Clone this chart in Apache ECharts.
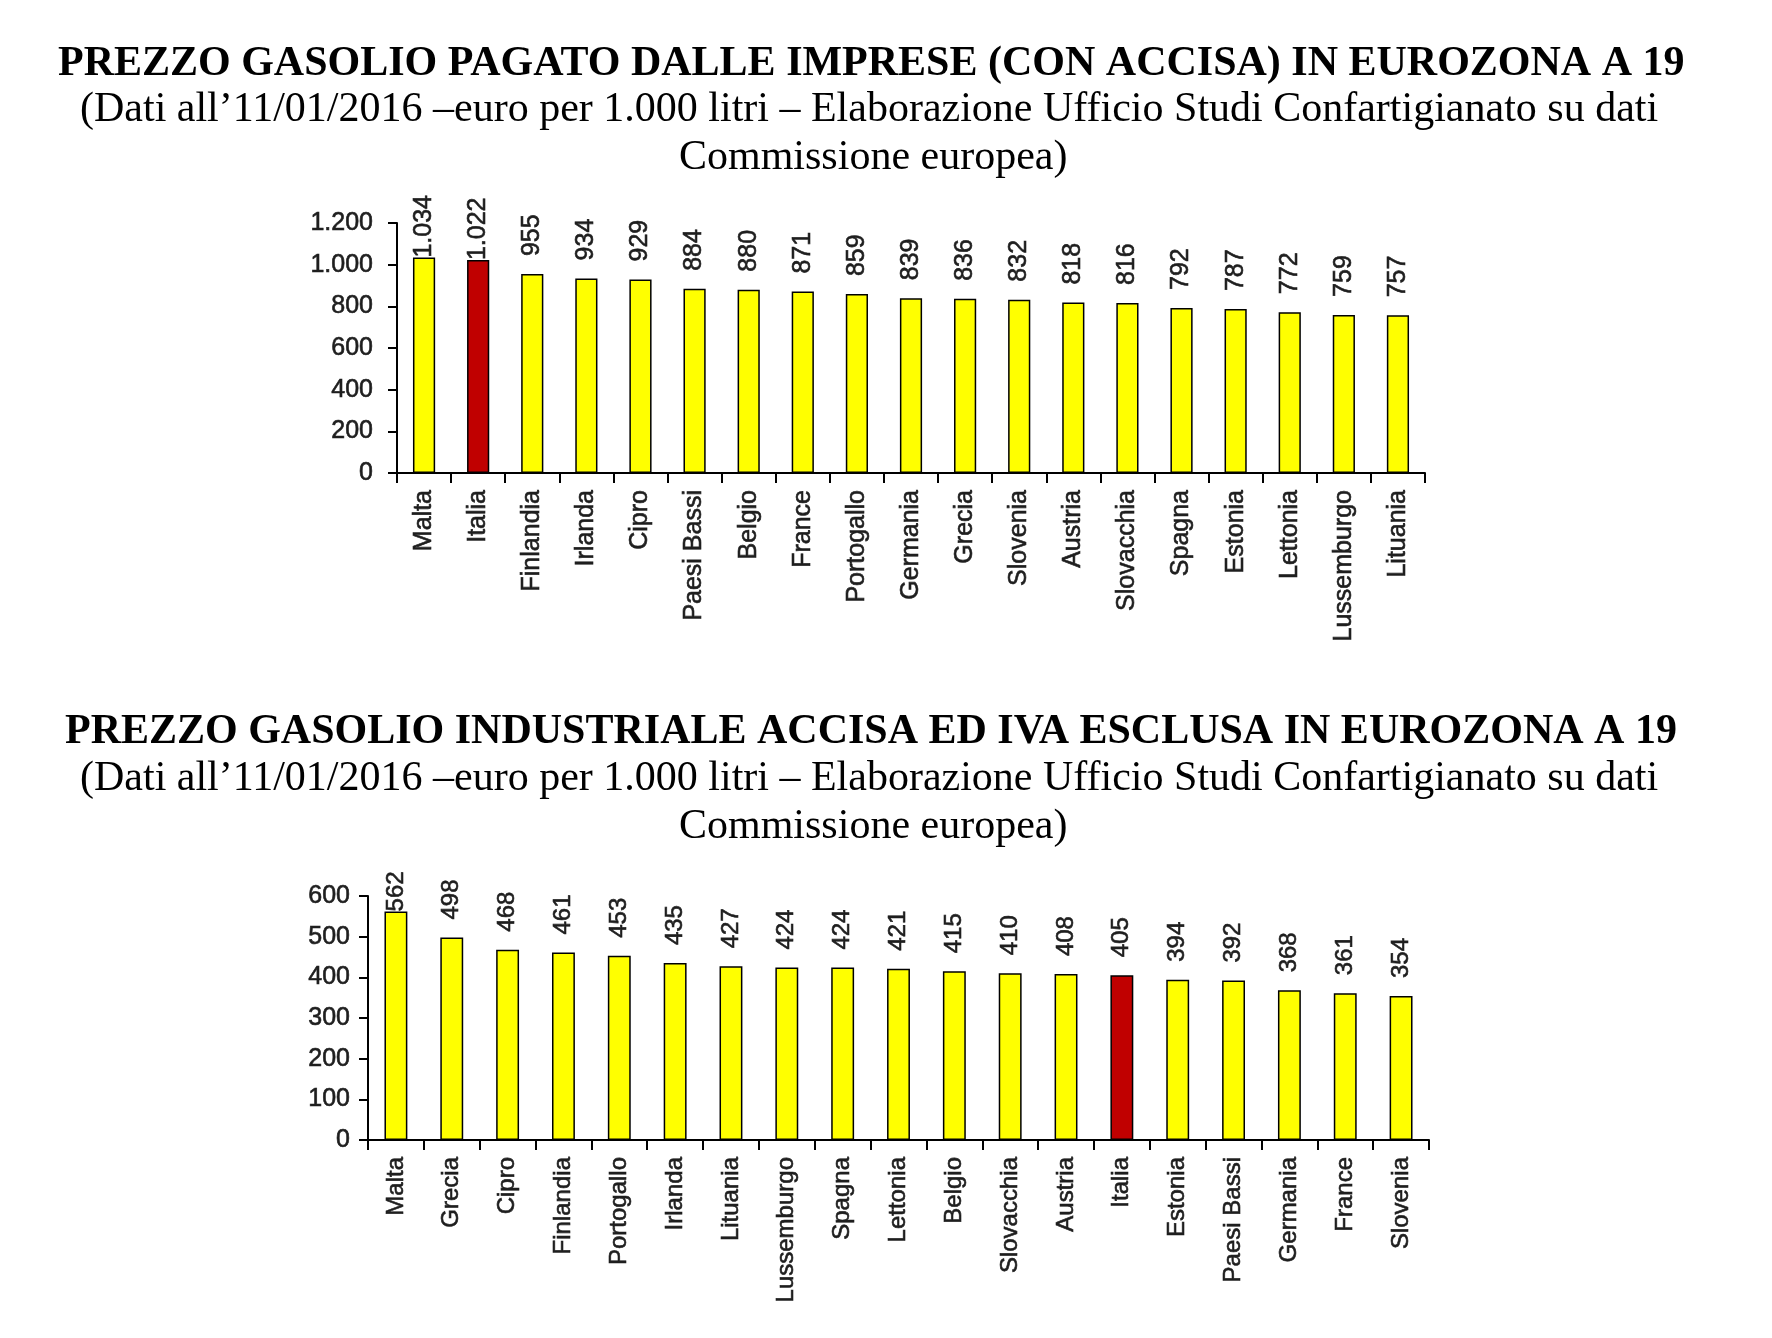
<!DOCTYPE html>
<html>
<head>
<meta charset="utf-8">
<script src="https://cdn.jsdelivr.net/npm/echarts@6/dist/echarts.min.js"></script>
<style>
html,body{margin:0;padding:0;background:#fff;}
#chart{width:1772px;height:1338px;}
</style>
</head>
<body>
<div id="chart"></div>
<script>
const title1 = "PREZZO GASOLIO PAGATO DALLE IMPRESE (CON ACCISA) IN EUROZONA A 19";
const title2 = "PREZZO GASOLIO INDUSTRIALE ACCISA ED IVA ESCLUSA IN EUROZONA A 19";
const subLine1 = "(Dati all\u201911/01/2016 \u2013euro per 1.000 litri \u2013 Elaborazione Ufficio Studi Confartigianato su dati";
const subLine2 = "Commissione europea)";

const categories1 = ["Malta","Italia","Finlandia","Irlanda","Cipro","Paesi Bassi","Belgio","France","Portogallo","Germania","Grecia","Slovenia","Austria","Slovacchia","Spagna","Estonia","Lettonia","Lussemburgo","Lituania"];
const values1 = [1034,1022,955,934,929,884,880,871,859,839,836,832,818,816,792,787,772,759,757];

const categories2 = ["Malta","Grecia","Cipro","Finlandia","Portogallo","Irlanda","Lituania","Lussemburgo","Spagna","Lettonia","Belgio","Slovacchia","Austria","Italia","Estonia","Paesi Bassi","Germania","France","Slovenia"];
const values2 = [562,498,468,461,453,435,427,424,424,421,415,410,408,405,394,392,368,361,354];

const ticks1 = [0,200,400,600,800,1000,1200];
const ticks2 = [0,100,200,300,400,500,600];

const highlight = "Italia";

function fmt(v){ return String(v).replace(/\B(?=(\d{3})+(?!\d))/g, "."); }

function buildData(cats, vals, axisMax){
  return vals.map((v,i)=>({
    value: v,
    itemStyle: { color: cats[i] === highlight ? "#C00000" : "#FFFF00" },
    label: { distance: v / axisMax > 0.84 ? 0 : 18 }
  }));
}

const labelFont = "'Liberation Sans', Arial, sans-serif";
const serif = "'Liberation Serif', 'Times New Roman', serif";
const txtColor = "#1e1e1e";
const heavy = { textBorderColor: txtColor, textBorderWidth: 0.6 };

function xAxisCfg(cats, gi, fs){
  return {
    type: "category", gridIndex: gi, data: cats,
    axisLine: { lineStyle: { color: "#000", width: 2 } },
    axisTick: { show: true, length: 10, lineStyle: { color: "#000", width: 2 } },
    axisLabel: Object.assign({ rotate: 90, margin: 17, color: txtColor, fontSize: fs, fontFamily: labelFont, interval: 0 }, heavy)
  };
}
function yAxisCfg(ticks, gi, margin, fs){
  return {
    type: "value", gridIndex: gi, min: ticks[0], max: ticks[ticks.length-1], interval: ticks[1]-ticks[0],
    splitLine: { show: false },
    axisLine: { show: true, lineStyle: { color: "#000", width: 2 } },
    axisTick: { show: true, length: 9, lineStyle: { color: "#000", width: 2 } },
    axisLabel: Object.assign({ margin: margin, color: txtColor, fontSize: fs, fontFamily: labelFont, formatter: v => fmt(v) }, heavy)
  };
}
function seriesCfg(cats, vals, ticks, gi, fs){
  return {
    type: "bar", xAxisIndex: gi, yAxisIndex: gi, barWidth: "41%",
    data: buildData(cats, vals, ticks[ticks.length-1]),
    itemStyle: { borderColor: "#000", borderWidth: 1.5 },
    label: Object.assign({ show: true, position: "top", rotate: 90, align: "left", verticalAlign: "middle",
      color: txtColor, fontSize: fs, fontFamily: labelFont, formatter: p => fmt(p.value) }, heavy),
    animation: false
  };
}

const chart = echarts.init(document.getElementById("chart"), null, { renderer: "canvas" });
const tStyle = { fontFamily: serif, fontWeight: "bold", fontSize: 42, color: "#000" };
const sStyle = { fontFamily: serif, fontWeight: "normal", fontSize: 42, color: "#000" };
chart.setOption({
  backgroundColor: "#fff",
  animation: false,
  title: [
    { text: title1, left: 53, top: 38, textStyle: tStyle },
    { text: subLine1, left: 75, top: 84, textStyle: sStyle },
    { text: subLine2, left: 674, top: 132, textStyle: sStyle },
    { text: title2, left: 60, top: 706, textStyle: tStyle },
    { text: subLine1, left: 75, top: 753, textStyle: sStyle },
    { text: subLine2, left: 674, top: 801, textStyle: sStyle }
  ],
  grid: [
    { left: 397, top: 223, width: 1028, height: 250, containLabel: false },
    { left: 368, top: 896, width: 1061, height: 244, containLabel: false }
  ],
  xAxis: [ xAxisCfg(categories1, 0, 25), xAxisCfg(categories2, 1, 24) ],
  yAxis: [ yAxisCfg(ticks1, 0, 24, 25), yAxisCfg(ticks2, 1, 18, 25) ],
  series: [ seriesCfg(categories1, values1, ticks1, 0, 25), seriesCfg(categories2, values2, ticks2, 1, 24) ]
});
</script>
</body>
</html>
